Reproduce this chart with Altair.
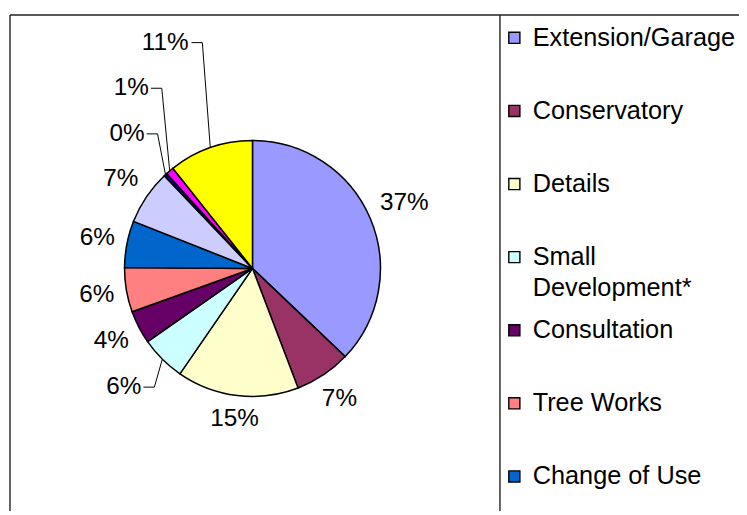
import altair as alt
import numpy as np
import pandas as pd

# ---------------- data ----------------
categories = [
    "Extension/Garage", "Conservatory", "Details", "Small Development*",
    "Consultation", "Tree Works", "Change of Use",
    "Category 8", "Category 9", "Category 10", "Category 11",
]
shares = [37.1, 7.1, 15.4, 5.7, 4.2, 5.6, 5.9, 6.9, 0.4, 1.0, 10.7]
colors = [
    "#9999FF", "#993366", "#FFFFCC", "#CCFFFF", "#660066", "#FF8080",
    "#0066CC", "#CCCCFF", "#000080", "#FF00FF", "#FFFF00",
]

# ---------------- layout ----------------
W, H = 737, 505          # drawing area (page margin 8px)
CX, CY = 246.5, 260.5    # pie centre inside the drawing area
R = 129                  # pie radius
FS = 24.5                # pie label font size
LFS = 25.5               # legend font size
FONT = "Liberation Sans"
GAP = 11                 # gap between pie edge and label box
HALF_H = 10              # half label height
MIN_DY = 46              # minimal vertical distance of neighbouring labels
X_MARGIN = 30
ELBOW_BACK = 8
LEAD = 13
LEG_Y0, LEG_STEP = 28, 73.7

n = len(shares)
s = np.array(shares, dtype=float)
total = s.sum()
mid = 2 * np.pi * (np.cumsum(s) - s / 2) / total
sin, cos = np.sin(mid), np.cos(mid)
labels = [f"{int(round(v / total * 100))}%" for v in shares]
hw = np.array([((len(t) - 1) * 0.556 + 0.889) * FS / 2 for t in labels])
d = R + GAP + hw * np.abs(sin) + HALF_H * np.abs(cos)
lx = d * sin
ly = -d * cos
pushed = np.zeros(n, dtype=bool)

left = [i for i in range(n) if sin[i] < 0]
anchor = min(left, key=lambda i: abs(cos[i]))


def overlaps_x(i, j):
    return (lx[i] - hw[i] - X_MARGIN < lx[j] + hw[j] + X_MARGIN) and \
           (lx[j] - hw[j] - X_MARGIN < lx[i] + hw[i] + X_MARGIN)


def place(i, y):
    ly[i] = y
    lx[i] = R * sin[i] - ELBOW_BACK - LEAD - hw[i]
    pushed[i] = True


prev = anchor
for i in sorted(i for i in left if mid[i] > mid[anchor]):
    if overlaps_x(i, prev) and ly[i] > ly[prev] - MIN_DY:
        place(i, ly[prev] - MIN_DY)
    prev = i
prev = anchor
for i in sorted((i for i in left if mid[i] < mid[anchor]), reverse=True):
    if overlaps_x(i, prev) and ly[i] < ly[prev] + MIN_DY:
        place(i, ly[prev] + MIN_DY)
    prev = i

pie_df = pd.DataFrame({"name": categories, "share": shares, "idx": list(range(n))})
lab_df = pd.DataFrame({"name": categories, "label": labels,
                       "lx": lx.astype(float), "ly": ly.astype(float)})
rows = []
for i in range(n):
    if pushed[i]:
        ex, ey = R * sin[i], -R * cos[i]
        pts = [(lx[i] + hw[i] + 2, ly[i]), (ex - ELBOW_BACK, ly[i]), (ex, ey)]
        for k, (px, py) in enumerate(pts):
            rows.append({"name": categories[i], "seq": k, "lx": float(px), "ly": float(py)})
lead_df = pd.DataFrame(rows)

# the legend box is cut by the chart border: only entries that fit are drawn
m = sum(1 for i in range(n) if LEG_Y0 + LEG_STEP * i + LFS / 2 < H)
leg_names = categories[:m]
leg_df = pd.DataFrame({
    "name": leg_names,
    "text": [c.replace("Small ", "Small\n") for c in leg_names],
})

color = alt.Color("name:N", scale=alt.Scale(domain=categories, range=colors), legend=None)
xs = alt.Scale(domain=[-CX, W - CX], range=[0, W], nice=False, zero=False)
ys = alt.Scale(domain=[-CY, H - CY], range=[0, H], nice=False, zero=False)

pie = alt.Chart(pie_df).mark_arc(outerRadius=R, stroke="black", strokeWidth=1.5).encode(
    theta=alt.Theta("share:Q", stack=True),
    color=color,
    order=alt.Order("idx:Q"),
    x=alt.value(CX),
    y=alt.value(CY),
)

leaders = alt.Chart(lead_df).mark_line(color="black", strokeWidth=1).encode(
    x=alt.X("lx:Q", scale=xs, axis=None),
    y=alt.Y("ly:Q", scale=ys, axis=None),
    detail="name:N",
    order="seq:Q",
)

texts = alt.Chart(lab_df).mark_text(
    font=FONT, fontSize=FS, color="black", align="center", baseline="middle"
).encode(
    x=alt.X("lx:Q", scale=xs, axis=None),
    y=alt.Y("ly:Q", scale=ys, axis=None),
    text="label:N",
)

leg_y = alt.Y("name:N", sort=leg_names,
              scale=alt.Scale(domain=leg_names,
                              range=[LEG_Y0, LEG_Y0 + LEG_STEP * (m - 1)], padding=0),
              axis=None)
leg_sq = alt.Chart(leg_df).mark_square(size=125, stroke="black", strokeWidth=1.4, opacity=1).encode(
    x=alt.value(510.5), y=leg_y, color=color,
)
leg_tx = alt.Chart(leg_df).mark_text(
    font=FONT, fontSize=LFS, color="black", align="left", baseline="middle",
    lineBreak="\n", lineHeight=31,
).encode(x=alt.value(529), y=leg_y, text="text:N")

one = pd.DataFrame({"k": [0]})
frame_top = alt.Chart(one).mark_rule(color="#222222", strokeWidth=1.4).encode(
    x=alt.value(2), x2=alt.value(W), y=alt.value(5))
frame_left = alt.Chart(one).mark_rule(color="#222222", strokeWidth=1.4).encode(
    x=alt.value(2), y=alt.value(5), y2=alt.value(H))
frame_leg = alt.Chart(one).mark_rule(color="#222222", strokeWidth=1.4).encode(
    x=alt.value(496), y=alt.value(5), y2=alt.value(H))

chart = alt.layer(
    pie, leaders, texts, leg_sq, leg_tx, frame_top, frame_left, frame_leg
).resolve_scale(
    y="independent", x="independent", color="shared"
).properties(
    width=W, height=H, padding=0, autosize=alt.AutoSizeParams(type="none")
).configure_view(stroke="transparent")

chart.save("out.html", embed_options={"renderer": "svg", "actions": False})
